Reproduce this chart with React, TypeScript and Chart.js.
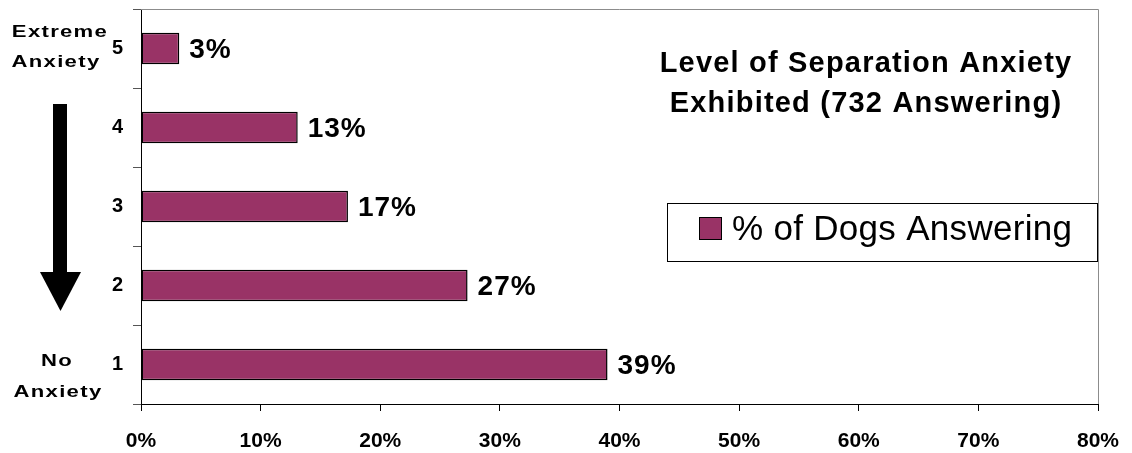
import React, { useEffect, useRef } from "react";
import { Chart, registerables } from "chart.js";

Chart.register(...registerables);

const categories = ["5", "4", "3", "2", "1"];
const dogShare = [3.2, 13.1, 17.3, 27.3, 39.0];
const valueLabels = ["3%", "13%", "17%", "27%", "39%"];
const seriesName = "% of Dogs Answering";
const titleLines = ["Level of Separation Anxiety", "Exhibited (732 Answering)"];
const topSideLabel = ["Extreme", "Anxiety"];
const bottomSideLabel = ["No", "Anxiety"];

const FONT = '"Liberation Sans", Arial, sans-serif';
const BAR_COLOR = "#993366";

function stretchedText(ctx: any, text: string, x: number, y: number, sx: number) {
  ctx.save();
  ctx.translate(x, y);
  ctx.scale(sx, 1);
  ctx.fillText(text, 0, 0);
  ctx.restore();
}

const decorPlugin = {
  id: "decor",
  beforeDatasetsDraw(chart: any) {
    const { ctx, chartArea } = chart;
    ctx.save();
    ctx.strokeStyle = "#8c8c8c";
    ctx.lineWidth = 1;
    ctx.beginPath();
    ctx.moveTo(chartArea.left, chartArea.top + 0.5);
    ctx.lineTo(chartArea.right + 0.5, chartArea.top + 0.5);
    ctx.lineTo(chartArea.right + 0.5, chartArea.bottom);
    ctx.stroke();
    ctx.restore();
  },
  afterDatasetsDraw(chart: any) {
    const { ctx, chartArea } = chart;
    const meta = chart.getDatasetMeta(0);
    ctx.save();
    // value labels
    ctx.fillStyle = "#000";
    ctx.font = `bold 28px ${FONT}`;
    (ctx as any).letterSpacing = "1px";
    ctx.textAlign = "left";
    ctx.textBaseline = "middle";
    meta.data.forEach((bar: any, i: number) => {
      ctx.fillText(valueLabels[i], bar.x + 10, bar.y + 2);
    });
    // title
    ctx.font = `bold 29px ${FONT}`;
    (ctx as any).letterSpacing = "1.2px";
    ctx.textAlign = "center";
    const cx = chartArea.left + 725;
    ctx.fillText(titleLines[0], cx, chartArea.top + 55);
    ctx.fillText(titleLines[1], cx, chartArea.top + 95);
    // legend
    (ctx as any).letterSpacing = "0px";
    const lx = chartArea.left + 526;
    const ly = chartArea.top + 194;
    ctx.fillStyle = "#fff";
    ctx.fillRect(lx, ly, 430, 58);
    ctx.strokeStyle = "#000";
    ctx.lineWidth = 1;
    ctx.strokeRect(lx + 0.5, ly + 0.5, 430, 58);
    ctx.fillStyle = BAR_COLOR;
    ctx.fillRect(lx + 32, ly + 14, 23, 23);
    ctx.strokeRect(lx + 32.5, ly + 14.5, 22, 22);
    ctx.fillStyle = "#000";
    ctx.font = `35px ${FONT}`;
    (ctx as any).letterSpacing = "0.3px";
    ctx.textAlign = "left";
    ctx.fillText(seriesName, lx + 65, ly + 27);
    // arrow
    ctx.fillStyle = "#000";
    ctx.fillRect(53, 104, 14, 168);
    ctx.beginPath();
    ctx.moveTo(40, 272);
    ctx.lineTo(81, 272);
    ctx.lineTo(60.5, 311);
    ctx.closePath();
    ctx.fill();
    // side labels (stretched horizontally like the original)
    ctx.font = `bold 17px ${FONT}`;
    (ctx as any).letterSpacing = "1px";
    ctx.textAlign = "center";
    stretchedText(ctx, topSideLabel[0], 60, 32, 1.3);
    stretchedText(ctx, topSideLabel[1], 56, 62, 1.3);
    stretchedText(ctx, bottomSideLabel[0], 57, 361, 1.3);
    stretchedText(ctx, bottomSideLabel[1], 58, 392, 1.3);
    (ctx as any).letterSpacing = "0px";
    ctx.restore();
  },
};

export default function App() {
  const ref = useRef<HTMLCanvasElement>(null);
  useEffect(() => {
    document.body.style.margin = "0";
    const chart = new Chart(ref.current as HTMLCanvasElement, {
      type: "bar",
      data: {
        labels: categories,
        datasets: [
          {
            label: seriesName,
            data: dogShare,
            backgroundColor: BAR_COLOR,
            borderColor: "#000",
            borderWidth: 1.5,
            borderSkipped: false,
            barPercentage: 0.4,
            categoryPercentage: 1,
          },
        ],
      },
      options: {
        indexAxis: "y",
        animation: false,
        responsive: false,
        devicePixelRatio: 1,
        layout: { padding: { top: 9, right: 34, left: 0, bottom: 0 } },
        plugins: { legend: { display: false }, tooltip: { enabled: false }, title: { display: false } },
        scales: {
          x: {
            min: 0,
            max: 80,
            afterFit: (s: any) => {
              s.height = 49;
              s.paddingLeft = 0;
              s.paddingRight = 0;
            },
            ticks: {
              stepSize: 10,
              padding: 18,
              color: "#000",
              font: { family: FONT, size: 21, weight: "bold" },
              callback: (v: any) => `${v}%`,
            },
            grid: { drawOnChartArea: false, tickLength: 7, color: "#000" },
            border: { color: "#000", width: 1 },
          },
          y: {
            afterFit: (s: any) => {
              s.width = 141;
              s.paddingTop = 0;
              s.paddingBottom = 0;
            },
            ticks: {
              padding: 10,
              color: "#000",
              font: { family: FONT, size: 20, weight: "bold" },
            },
            grid: { drawOnChartArea: false, offset: true, tickLength: 8, color: "#555" },
            border: { color: "#000", width: 1 },
          },
        },
      },
      plugins: [decorPlugin],
    });
    return () => chart.destroy();
  }, []);
  return (
    <div style={{ position: "absolute", left: 0, top: 0, width: 1132, height: 453, background: "#fff" }}>
      <canvas ref={ref} width={1132} height={453} />
    </div>
  );
}
